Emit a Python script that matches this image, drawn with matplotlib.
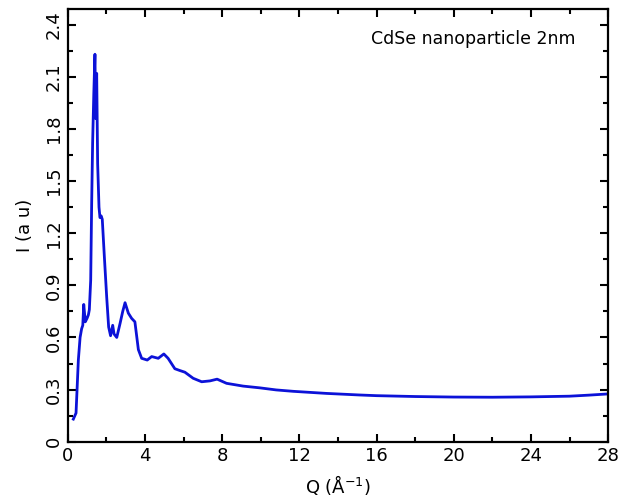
import matplotlib
matplotlib.use("Agg")
import matplotlib.pyplot as plt
from matplotlib.ticker import MultipleLocator

q = [0.29, 0.43, 0.55, 0.64, 0.72, 0.78, 0.83, 0.91, 1.0, 1.07, 1.12, 1.19, 1.24, 1.29, 1.35, 1.41,
     1.45, 1.50, 1.55, 1.62, 1.67, 1.73, 1.79, 1.9, 2.02, 2.12, 2.22, 2.33, 2.4, 2.54, 2.71, 2.85,
     2.97, 3.14, 3.31, 3.48, 3.66, 3.83, 4.12, 4.35, 4.69, 4.98, 5.2, 5.55, 5.8, 6.07, 6.5, 6.94,
     7.37, 7.74, 8.23, 9.09, 9.95, 10.8, 11.68, 13.4, 15.1, 16.0, 18.0, 20.0, 22.0, 24.0, 26.0,
     27.0, 28.0]
intensity = [0.13, 0.165, 0.47, 0.60, 0.65, 0.67, 0.79, 0.69, 0.71, 0.73, 0.76, 0.93, 1.37, 1.72, 2.0, 2.23,
             1.86, 2.12, 1.60, 1.35, 1.29, 1.30, 1.28, 1.06, 0.83, 0.66, 0.61, 0.67, 0.62, 0.60, 0.68, 0.75,
             0.80, 0.74, 0.71, 0.69, 0.53, 0.48, 0.47, 0.49, 0.48, 0.505, 0.48, 0.42, 0.41, 0.40, 0.365, 0.345,
             0.35, 0.36, 0.336, 0.32, 0.31, 0.298, 0.29, 0.278, 0.269, 0.265, 0.26, 0.257, 0.256, 0.258, 0.262,
             0.268, 0.275]

xticks = [0, 4, 8, 12, 16, 20, 24, 28]
yticks = [0, 0.3, 0.6, 0.9, 1.2, 1.5, 1.8, 2.1, 2.4]
annotation = "CdSe nanoparticle 2nm"

fig = plt.figure(figsize=(6.18, 5.04), dpi=100)
ax = fig.add_axes([0.1096, 0.1236, 0.8744, 0.8584])
ax.plot(q, intensity, color="#0c12d8", lw=2.0)
ax.set_xlim(0, 28)
ax.set_ylim(0, 2.49)
ax.set_xticks(xticks)
ax.set_xticklabels([str(t) for t in xticks])
ax.set_yticks(yticks)
ax.set_yticklabels(["0" if t == 0 else f"{t:.1f}" for t in yticks], rotation=90, va="center")
ax.xaxis.set_minor_locator(MultipleLocator(2))
ax.yaxis.set_minor_locator(MultipleLocator(0.15))
ax.tick_params(which="both", direction="in", top=True, right=True, width=1.5, labelsize=13)
ax.tick_params(which="major", length=6)
ax.tick_params(which="minor", length=3.5)
for s in ax.spines.values():
    s.set_linewidth(1.6)
ax.set_xlabel(r"Q ($\mathrm{\AA}^{-1}$)", fontsize=13, labelpad=6)
ax.set_ylabel("I (a u)", fontsize=13, labelpad=8)
ax.text(21.0, 2.32, annotation, fontsize=12.5, ha="center", va="center")
fig.savefig("out.png", dpi=100)
